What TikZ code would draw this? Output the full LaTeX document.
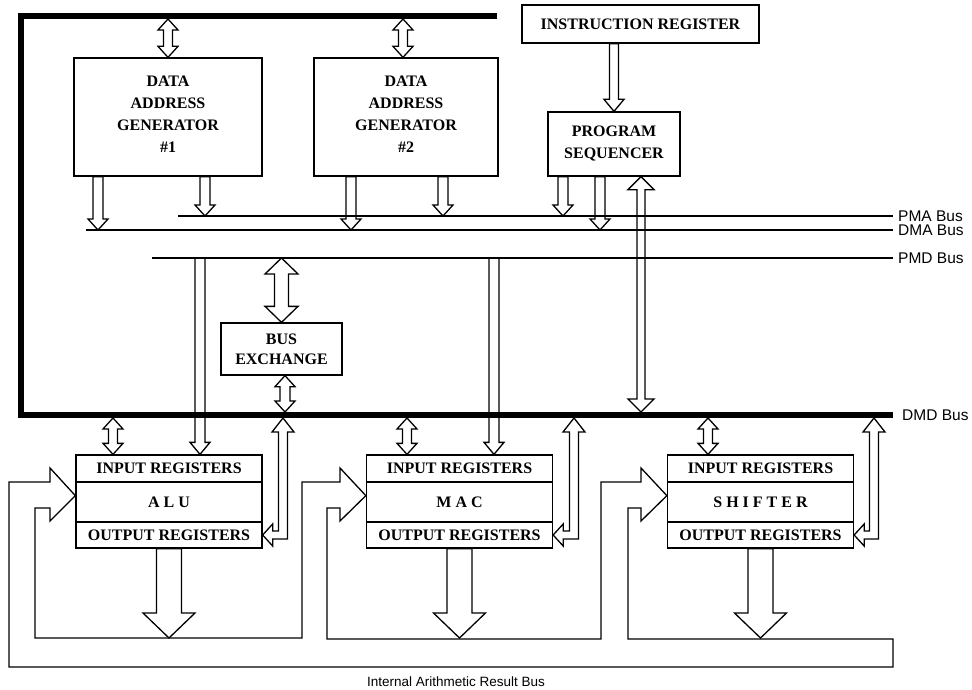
\documentclass[tikz,border=0pt]{standalone}
\usepackage{fontspec}
\setmainfont{Liberation Serif}
\setsansfont{Liberation Sans}
\usetikzlibrary{calc}

\tikzset{
  hollow/.style={draw, fill=white, line width=1.3pt, line join=miter},
  blk/.style={draw, fill=white, line width=1.3pt, inner sep=0pt, align=center,
    font=\fontsize{16}{22}\selectfont\bfseries},
  buslabel/.style={anchor=west, inner sep=0pt, font=\fontsize{15.5}{18}\selectfont\sffamily},
  thinbus/.style={line width=2.8pt},
  thickbus/.style={line width=5.5pt, line join=miter},
  ring/.style={line width=1.3pt, line join=miter},
}

% double-headed hollow arrow: #1 end, #2 end, #3 shaft half width, #4 head half width, #5 head length
\newcommand{\dblarrow}[5]{%
  \coordinate (arA) at (#1);
  \coordinate (arB) at (#2);
  \coordinate (arHA) at ($(arA)!#5!(arB)$);
  \coordinate (arHB) at ($(arB)!#5!(arA)$);
  \draw[hollow] (arA)
    -- ($(arHA)!#4!90:(arB)$) -- ($(arHA)!#3!90:(arB)$)
    -- ($(arHB)!#3!-90:(arA)$) -- ($(arHB)!#4!-90:(arA)$)
    -- (arB)
    -- ($(arHB)!#4!90:(arA)$) -- ($(arHB)!#3!90:(arA)$)
    -- ($(arHA)!#3!-90:(arB)$) -- ($(arHA)!#4!-90:(arB)$)
    -- cycle;
}
% single-headed hollow arrow: #1 tail, #2 tip
\newcommand{\sglarrow}[5]{%
  \coordinate (arA) at (#1);
  \coordinate (arB) at (#2);
  \coordinate (arHB) at ($(arB)!#5!(arA)$);
  \draw[hollow] ($(arA)!#3!90:(arB)$)
    -- ($(arHB)!#3!-90:(arA)$) -- ($(arHB)!#4!-90:(arA)$)
    -- (arB)
    -- ($(arHB)!#4!90:(arA)$) -- ($(arHB)!#3!90:(arA)$)
    -- ($(arA)!#3!-90:(arB)$) -- cycle;
}
% bent double-headed arrow: #1 left tip (on a block), #2 upper tip (on the bus)
\newcommand{\bentarrow}[2]{%
  \draw[hollow] let \p1=(#1), \p2=(#2) in
    (\x1,\y1) -- ({\x1+10pt},{\y1+11pt}) -- ({\x1+10pt},{\y1+4pt})
    -- ({\x2-4.5pt},{\y1+4pt}) -- ({\x2-4.5pt},{\y2-14pt}) -- ({\x2-11pt},{\y2-14pt})
    -- (\x2,\y2)
    -- ({\x2+11pt},{\y2-14pt}) -- ({\x2+4.5pt},{\y2-14pt}) -- ({\x2+4.5pt},{\y1-4pt})
    -- ({\x1+10pt},{\y1-4pt}) -- ({\x1+10pt},{\y1-11pt}) -- cycle;
}

\begin{document}
\begin{tikzpicture}[x=1pt, y=-1pt]
\useasboundingbox (0,0) rectangle (972,690);

% bus coordinates
\coordinate (topR) at (497,16);
\coordinate (topL) at (21,16);
\coordinate (dmdL) at (21,415);
\coordinate (dmdR) at (893,415);
\coordinate (topB) at (0,19);
\coordinate (dmdT) at (0,412);
\coordinate (dmdB) at (0,418);
\coordinate (pmaL) at (178,216);
\coordinate (pmaR) at (893,216);
\coordinate (dmaL) at (86,230);
\coordinate (dmaR) at (893,230);
\coordinate (pmdL) at (152,258);
\coordinate (pmdR) at (893,258);
\coordinate (ringIn) at (0,638);

% blocks
\node[blk, minimum width=188pt, minimum height=118pt, text depth=6pt] (dag1) at (168,117)
  {DATA\\ADDRESS\\GENERATOR\\\#1};
\node[blk, minimum width=184pt, minimum height=118pt, text depth=6pt] (dag2) at (406,117)
  {DATA\\ADDRESS\\GENERATOR\\\#2};
\node[blk, minimum width=237pt, minimum height=38pt] (ir) at (640.5,24)
  {INSTRUCTION REGISTER};
\node[blk, minimum width=132pt, minimum height=64pt] (ps) at (614,144)
  {PROGRAM\\SEQUENCER};
\node[blk, minimum width=121pt, minimum height=52pt,
  font=\fontsize{16}{20}\selectfont\bfseries] (bx) at (281.5,349)
  {BUS\\EXCHANGE};

\foreach \nm/\cx/\txt in {alu/169/A L U, mac/459.5/M A C, shf/760.5/S H I F T E R}{
  \node[blk, minimum width=186pt, minimum height=27pt] (\nm In) at (\cx,468.5) {INPUT REGISTERS};
  \node[blk, minimum width=186pt, minimum height=40pt] (\nm) at (\cx,502) {\txt};
  \node[blk, minimum width=186pt, minimum height=26pt] (\nm Out) at (\cx,535) {OUTPUT REGISTERS};
}

% internal arithmetic result bus (one closed outline with the three input heads)
\draw[ring]
  (50,482) -- (50,468) -- ($(aluIn.south west)+(0,13)$) -- (50,521) -- (50,508)
  -- (35,508) -- (35,638) -- (302,638) -- (302,482)
  -- (340,482) -- (340,468) -- ($(macIn.south west)+(0,13)$) -- (340,521) -- (340,508)
  -- (327,508) -- (327,639) -- (601,639) -- (601,482)
  -- (641,482) -- (641,468) -- ($(shfIn.south west)+(0,13)$) -- (641,521) -- (641,508)
  -- (628,508) -- (628,639) -- (893,639) -- (893,667) -- (9,667) -- (9,482) -- cycle;

% address generators
\dblarrow{dag1.north}{dag1.north |- topB}{4.5pt}{10pt}{11pt}
\dblarrow{dag2.north -| 403,0}{403,0 |- topB}{4.5pt}{10pt}{11pt}
\sglarrow{dag1.south -| 98,0}{98,0 |- dmaL}{5pt}{10pt}{11pt}
\sglarrow{dag1.south -| 205,0}{205,0 |- pmaL}{5pt}{10pt}{11pt}
\sglarrow{dag2.south -| 351,0}{351,0 |- dmaL}{5pt}{10pt}{11pt}
\sglarrow{dag2.south -| 443,0}{443,0 |- pmaL}{5pt}{10pt}{11pt}

% sequencer
\sglarrow{ir.south -| ps.north}{ps.north}{4.5pt}{10pt}{12pt}
\sglarrow{ps.south -| 563,0}{563,0 |- pmaL}{5pt}{10pt}{11pt}
\sglarrow{ps.south -| 600,0}{600,0 |- dmaL}{5pt}{10pt}{11pt}
\dblarrow{ps.south -| 641,0}{641,0 |- dmdT}{4pt}{13pt}{13pt}

% bus exchange
\dblarrow{bx.north |- pmdL}{bx.north}{7pt}{16.5pt}{16pt}
\dblarrow{bx.south -| 285,0}{285,0 |- dmdT}{5pt}{10pt}{11pt}

% computation units
\dblarrow{aluIn.north -| 113,0}{113,0 |- dmdB}{4.5pt}{10pt}{11pt}
\dblarrow{macIn.north -| 407,0}{407,0 |- dmdB}{4.5pt}{10pt}{11pt}
\dblarrow{shfIn.north -| 708,0}{708,0 |- dmdB}{4.5pt}{10pt}{11pt}
\sglarrow{200,0 |- pmdL}{aluIn.north -| 200,0}{5pt}{10pt}{12pt}
\sglarrow{494,0 |- pmdL}{macIn.north -| 494,0}{5pt}{10pt}{12pt}
\sglarrow{aluOut.south}{aluOut.south |- ringIn}{12.5pt}{26pt}{25pt}
\sglarrow{macOut.south}{macOut.south |- ringIn}{12.5pt}{26pt}{25pt}
\sglarrow{shfOut.south}{shfOut.south |- ringIn}{12.5pt}{26pt}{25pt}
\bentarrow{aluOut.east}{283,0 |- dmdB}
\bentarrow{macOut.east}{574,0 |- dmdB}
\bentarrow{shfOut.east}{874,0 |- dmdB}

% buses
\draw[thickbus] (topR) -- (topL) -- (dmdL) -- (dmdR);
\draw[thinbus] (pmaL) -- (pmaR);
\draw[thinbus] (dmaL) -- (dmaR);
\draw[thinbus] (pmdL) -- (pmdR);

% labels
\node[buslabel] (pmaLab) at ($(pmaR)+(5,0)$) {PMA Bus};
\node[buslabel] (dmaLab) at ($(dmaR)+(5,0)$) {DMA Bus};
\node[buslabel] (pmdLab) at ($(pmdR)+(5,0)$) {PMD Bus};
\node[buslabel] (dmdLab) at ($(dmdR)+(9,0)$) {DMD Bus};
\node[inner sep=0pt, font=\fontsize{13.5}{16}\selectfont\sffamily] (resLab) at (456,682)
  {Internal Arithmetic Result Bus};
\end{tikzpicture}
\end{document}
